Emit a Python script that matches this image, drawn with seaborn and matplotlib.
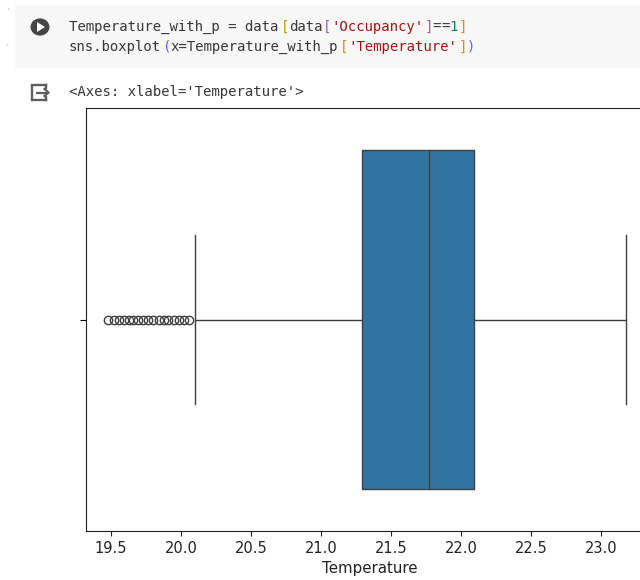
import matplotlib
matplotlib.use("Agg")
import matplotlib.pyplot as plt
import numpy as np
import pandas as pd
import seaborn as sns
from matplotlib.patches import Circle, Rectangle, Polygon

# ---- data ----
temp_values = [19.48, 19.52, 19.555, 19.59, 19.625, 19.66, 19.695, 19.73, 19.765,
               19.80, 19.84, 19.875, 19.91, 19.95, 19.985, 20.02, 20.06,
               20.10, 21.00, 21.29, 21.50, 21.77, 21.90, 22.09, 22.60, 23.18]
temp_counts = [1, 1, 1, 1, 1, 1, 1, 1, 1,
               1, 1, 1, 1, 1, 1, 1, 1,
               1, 2, 1, 19, 1, 19, 1, 19, 1]
tick_values = [19.5, 20.0, 20.5, 21.0, 21.5, 22.0, 22.5, 23.0]

Temperature_with_p = pd.DataFrame({"Temperature": np.repeat(temp_values, temp_counts)})

W, H = 640, 580
fig = plt.figure(figsize=(W / 100, H / 100), dpi=100)
fig.patch.set_facecolor("white")

def fx(px):
    return px / W

def fy(py):
    return 1 - py / H

# code cell background
fig.patches.append(Rectangle((fx(15), fy(68)), fx(640) - fx(15), fy(5) - fy(68),
                             transform=fig.transFigure, facecolor="#f7f7f7",
                             edgecolor="none", zorder=0))
# run button
fig.patches.append(Circle((fx(40), fy(27)), 9.5 / W, transform=fig.transFigure,
                          facecolor="#454545", edgecolor="none", zorder=2))
tri = Polygon([[fx(37), fy(22)], [fx(37), fy(32)], [fx(45), fy(27)]],
              closed=True, transform=fig.transFigure, facecolor="white",
              edgecolor="none", zorder=3)
fig.patches.append(tri)

# output icon (box with arrow)
ic = "#5f5f5f"
fig.add_artist(plt.Line2D([fx(46), fx(32), fx(32), fx(46)],
                          [fy(85), fy(85), fy(100), fy(100)],
                          transform=fig.transFigure, color=ic, lw=1.7,
                          solid_joinstyle="miter"))
fig.add_artist(plt.Line2D([fx(46), fx(46)], [fy(85), fy(88)], transform=fig.transFigure, color=ic, lw=1.7))
fig.add_artist(plt.Line2D([fx(46), fx(46)], [fy(97), fy(100)], transform=fig.transFigure, color=ic, lw=1.7))
fig.add_artist(plt.Line2D([fx(37), fx(48)], [fy(92.5), fy(92.5)], transform=fig.transFigure, color=ic, lw=1.6))
fig.add_artist(plt.Line2D([fx(44.5), fx(48.5), fx(44.5)], [fy(89), fy(92.5), fy(96)],
                          transform=fig.transFigure, color=ic, lw=1.6))

# small gutter marks
fig.text(fx(8), fy(10), "'", family="DejaVu Sans", fontsize=5, color="#9a9a9a", ha="center", va="center")
fig.text(fx(8), fy(44), "\u2e24", family="DejaVu Sans", fontsize=4, color="#9a9a9a", ha="center", va="center")

# code text, coloured segment by segment
mono = "DejaVu Sans Mono"
fs = 10.1
cw = 8.46  # px per character
dark = "#383838"
gold = "#c99a06"
purp = "#a05cc8"
blue = "#6a5cf0"
strc = "#a31515"
numc = "#098658"

def code_line(segments, x0, yc):
    x = x0
    for txt, col in segments:
        fig.text(fx(x), fy(yc), txt, family=mono, fontsize=fs, color=col,
                 ha="left", va="center")
        x += cw * len(txt)

code_line([("Temperature_with_p = data", dark), ("[", gold), ("data", dark),
           ("[", purp), ("'Occupancy'", strc), ("]", purp), ("=", dark), ("=", dark),
           ("1", numc), ("]", gold)], 69, 27)
code_line([("sns.boxplot", dark), ("(", blue), ("x=Temperature_with_p", dark),
           ("[", gold), ("'Temperature'", strc), ("]", gold), (")", blue)], 69, 47)
code_line([("<Axes: xlabel='Temperature'>", dark)], 69, 92)

# ---- the chart ----
ax = fig.add_axes([fx(86), fy(531), 568 / W, 423 / H])
sns.boxplot(x=Temperature_with_p["Temperature"], ax=ax)
ax.set_xlim(19.321, 23.378)
ax.set_xticks(tick_values)
ax.set_xticklabels([f"{v:.1f}" for v in tick_values])
ax.tick_params(axis="x", labelsize=10.5, colors="#222222")
ax.tick_params(axis="y", left=True, length=4)
ax.set_xlabel("Temperature", fontsize=10.8, color="#222222")
for s in ax.spines.values():
    s.set_color("#222222")

fig.savefig("out.png", dpi=100)
